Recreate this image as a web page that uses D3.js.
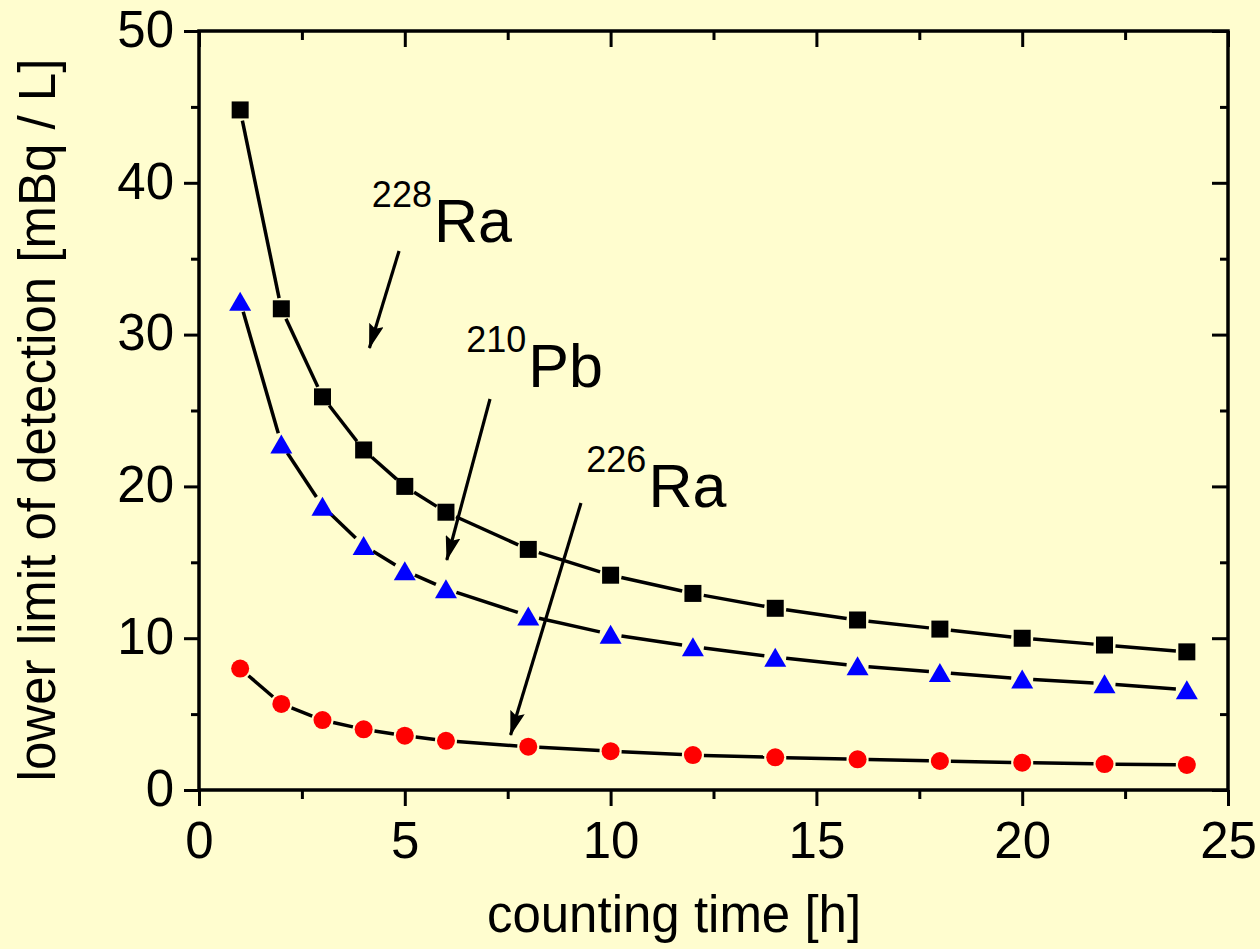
<!DOCTYPE html>
<html>
<head>
<meta charset="utf-8">
<script src="https://cdn.jsdelivr.net/npm/d3@7"></script>
<style>
  html, body { margin: 0; padding: 0; background: #FFFDCF; }
  svg { display: block; font-family: Arial, "Liberation Sans", sans-serif; }
</style>
</head>
<body>
<div id="chart"></div>
<script>
// counting time [h]
var hours = [1, 2, 3, 4, 5, 6, 8, 10, 12, 14, 16, 18, 20, 22, 24];
// lower limit of detection [mBq / L]
var ra228 = [44.8, 31.7, 25.9, 22.4, 20.0, 18.3, 15.85, 14.15, 12.95, 11.97, 11.2, 10.6, 10.0, 9.55, 9.1];
var pb210 = [32.2, 22.8, 18.7, 16.1, 14.45, 13.25, 11.47, 10.26, 9.44, 8.75, 8.18, 7.74, 7.32, 7.0, 6.6];
var ra226 = [8.0, 5.67, 4.61, 4.0, 3.58, 3.24, 2.85, 2.56, 2.3, 2.15, 2.02, 1.91, 1.8, 1.71, 1.65];

var xMajor = [0, 5, 10, 15, 20, 25];
var xMinor = [2.5, 7.5, 12.5, 17.5, 22.5];
var yMajor = [0, 10, 20, 30, 40, 50];
var yMinor = [5, 15, 25, 35, 45];

// annotation labels: [superscript, symbol, label x, label y, arrow from x, y, arrow to x, y] in data units
var labels = [
  ["228", "Ra", 4.20, 36.10, 4.86, 35.51, 4.14, 29.12],
  ["210", "Pb", 6.49, 26.55, 7.07, 25.76, 6.02, 15.15],
  ["226", "Ra", 9.41, 18.64, 9.28, 18.91, 7.57, 3.62]
];

var width = 1260, height = 949;
var plotL = 199, plotR = 1228, plotT = 31, plotB = 790;
var bg = "#FFFDCF";

var x = d3.scaleLinear().domain([0, 25]).range([plotL, plotR]);
var y = d3.scaleLinear().domain([0, 50]).range([plotB, plotT]);

var svg = d3.select("#chart").append("svg")
  .attr("width", width)
  .attr("height", height);

svg.append("rect").attr("width", width).attr("height", height).attr("fill", bg);

function styleAxis(g) {
  g.select(".domain").remove();
  g.selectAll(".tick line").attr("stroke", "#000").attr("stroke-width", 3);
  g.selectAll(".tick text").attr("fill", "#000");
}

// bottom axis (ticks outward)
svg.append("g").attr("transform", "translate(0," + plotB + ")")
  .call(d3.axisBottom(x).tickValues(xMajor).tickSize(16).tickPadding(16).tickFormat(d3.format("d")))
  .call(styleAxis)
  .selectAll(".tick text").attr("font-size", 51).attr("font-family", "Arial, 'Liberation Sans', sans-serif");
svg.append("g").attr("transform", "translate(0," + plotB + ")")
  .call(d3.axisBottom(x).tickValues(xMinor).tickSize(9).tickFormat(""))
  .call(styleAxis);

// top axis (ticks inward)
svg.append("g").attr("transform", "translate(0," + plotT + ")")
  .call(d3.axisBottom(x).tickValues(xMajor).tickSize(16).tickFormat(""))
  .call(styleAxis);
svg.append("g").attr("transform", "translate(0," + plotT + ")")
  .call(d3.axisBottom(x).tickValues(xMinor).tickSize(9).tickFormat(""))
  .call(styleAxis);

// left axis (ticks outward)
svg.append("g").attr("transform", "translate(" + plotL + ",0)")
  .call(d3.axisLeft(y).tickValues(yMajor).tickSize(15).tickPadding(10).tickFormat(d3.format("d")))
  .call(styleAxis)
  .selectAll(".tick text").attr("font-size", 51).attr("dy", "0.3em").attr("font-family", "Arial, 'Liberation Sans', sans-serif");
svg.append("g").attr("transform", "translate(" + plotL + ",0)")
  .call(d3.axisLeft(y).tickValues(yMinor).tickSize(8).tickFormat(""))
  .call(styleAxis);

// right axis (ticks inward)
svg.append("g").attr("transform", "translate(" + plotR + ",0)")
  .call(d3.axisLeft(y).tickValues(yMajor).tickSize(16).tickFormat(""))
  .call(styleAxis);
svg.append("g").attr("transform", "translate(" + plotR + ",0)")
  .call(d3.axisLeft(y).tickValues(yMinor).tickSize(8).tickFormat(""))
  .call(styleAxis);

// frame
svg.append("rect")
  .attr("x", plotL).attr("y", plotT)
  .attr("width", plotR - plotL).attr("height", plotB - plotT)
  .attr("fill", "none").attr("stroke", "#000").attr("stroke-width", 3.5);

// axis titles
svg.append("text")
  .attr("x", 674).attr("y", 932)
  .attr("text-anchor", "middle")
  .attr("font-size", 51)
  .text("counting time [h]");

svg.append("text")
  .attr("transform", "translate(55,420) rotate(-90)")
  .attr("text-anchor", "middle")
  .attr("font-size", 51)
  .text("lower limit of detection [mBq / L]");

// series
var series = [
  { values: ra228, shape: "square", color: "#000000" },
  { values: pb210, shape: "triangle", color: "#0000FF" },
  { values: ra226, shape: "circle", color: "#FF0000" }
];

var gap = 11;
series.forEach(function(s) {
  var pts = hours.map(function(h, i) { return [x(h), y(s.values[i])]; });
  var segs = [];
  for (var i = 0; i < pts.length - 1; i++) {
    var a = pts[i], b = pts[i + 1];
    var dx = b[0] - a[0], dy = b[1] - a[1];
    var len = Math.sqrt(dx * dx + dy * dy);
    if (len <= 2 * gap) continue;
    var ux = dx / len, uy = dy / len;
    segs.push([a[0] + ux * gap, a[1] + uy * gap, b[0] - ux * gap, b[1] - uy * gap]);
  }
  svg.append("g").selectAll("line")
    .data(segs)
    .enter().append("line")
    .attr("x1", function(d) { return d[0]; })
    .attr("y1", function(d) { return d[1]; })
    .attr("x2", function(d) { return d[2]; })
    .attr("y2", function(d) { return d[3]; })
    .attr("stroke", "#000")
    .attr("stroke-width", 3.5);

  svg.append("g").selectAll("path")
    .data(pts)
    .enter().append("path")
    .attr("fill", s.color)
    .attr("d", function(d) {
      var cx = d[0], cy = d[1];
      if (s.shape === "square") {
        return "M" + (cx - 8.5) + "," + (cy - 8.5) + "h17v17h-17Z";
      } else if (s.shape === "triangle") {
        return "M" + cx + "," + (cy - 9.5) + "L" + (cx + 11) + "," + (cy + 9.5) + "L" + (cx - 11) + "," + (cy + 9.5) + "Z";
      }
      return "M" + (cx - 9) + "," + cy + "a9,9 0 1,0 18,0a9,9 0 1,0 -18,0Z";
    });
});

// arrow marker
svg.append("defs").append("marker")
  .attr("id", "arrow")
  .attr("markerUnits", "userSpaceOnUse")
  .attr("viewBox", "0 0 25 15")
  .attr("refX", 24).attr("refY", 7.5)
  .attr("markerWidth", 25).attr("markerHeight", 15)
  .attr("orient", "auto")
  .append("path")
  .attr("d", "M0,0L25,7.5L0,15L4,7.5Z")
  .attr("fill", "#000");

var ann = svg.append("g");
labels.forEach(function(l) {
  ann.append("line")
    .attr("x1", x(l[4])).attr("y1", y(l[5]))
    .attr("x2", x(l[6])).attr("y2", y(l[7]))
    .attr("stroke", "#000").attr("stroke-width", 3.2)
    .attr("marker-end", "url(#arrow)");

  var t = ann.append("text")
    .attr("x", x(l[2])).attr("y", y(l[3]));
  t.append("tspan").attr("font-size", 36).attr("dy", -35).text(l[0]);
  t.append("tspan").attr("font-size", 61).attr("dy", 35).attr("dx", 2).text(l[1]);
});
</script>
</body>
</html>
